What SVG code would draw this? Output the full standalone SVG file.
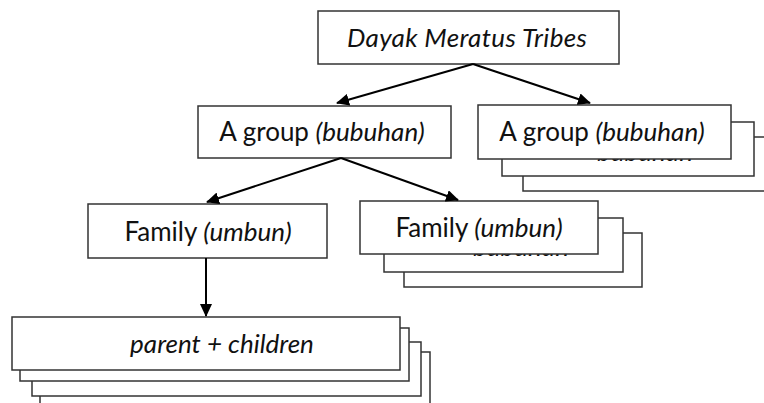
<svg xmlns="http://www.w3.org/2000/svg" width="764" height="403" viewBox="0 0 764 403">
<defs>
<marker id="ah" markerWidth="13" markerHeight="12" refX="12" refY="6" orient="auto" markerUnits="userSpaceOnUse" viewBox="0 0 13 12">
<path d="M0,0 L13,6 L0,12 z" fill="#000"/>
</marker>
</defs>
<style>
rect{fill:#fff;stroke:#333;stroke-width:1.5}
text{font-family:Lato,"Open Sans","Liberation Sans",sans-serif;font-size:26px;fill:#111;text-anchor:middle}
.i{font-style:italic}
.c line{stroke:#000;stroke-width:2;marker-end:url(#ah)}
</style>
<rect x="0" y="0" width="764" height="403" style="fill:#fff;stroke:none"/>
<g id="tribes">
<rect x="318" y="11" width="301" height="53"/>
<text x="467" y="47" class="i" textLength="240">Dayak Meratus Tribes</text>
</g>
<g id="group-right">
<rect x="523" y="137" width="260" height="54"/>
<rect x="502" y="122" width="252" height="54"/>
<text x="645" y="161" class="i">bubuhan</text>
<rect x="478" y="105" width="253" height="54"/>
<text x="602" y="141">A group <tspan class="i">(bubuhan)</tspan></text>
</g>
<g id="group-left">
<rect x="198" y="106" width="253" height="52"/>
<text x="322" y="141">A group <tspan class="i">(bubuhan)</tspan></text>
</g>
<g id="family-left">
<rect x="88" y="204" width="239" height="54"/>
<text x="208" y="241">Family <tspan class="i">(umbun)</tspan></text>
</g>
<g id="family-right">
<rect x="404" y="233" width="238" height="54"/>
<rect x="384" y="218" width="239" height="54"/>
<text x="521" y="256" class="i">bubuhan</text>
<rect x="360" y="201" width="238" height="53"/>
<text x="479" y="237">Family <tspan class="i">(umbun)</tspan></text>
</g>
<g id="parent-children">
<rect x="40" y="352" width="390" height="60"/>
<rect x="32" y="342" width="389" height="54"/>
<rect x="20" y="328" width="389" height="53"/>
<rect x="12" y="317" width="388" height="53"/>
<text x="222" y="353" class="i">parent + children</text>
</g>
<g class="c" id="connectors">
<line x1="473" y1="64" x2="337" y2="103"/>
<line x1="473" y1="64" x2="590" y2="103"/>
<line x1="341" y1="158" x2="207" y2="202"/>
<line x1="341" y1="158" x2="458" y2="200"/>
<line x1="206" y1="258" x2="206" y2="316"/>
</g>
</svg>
